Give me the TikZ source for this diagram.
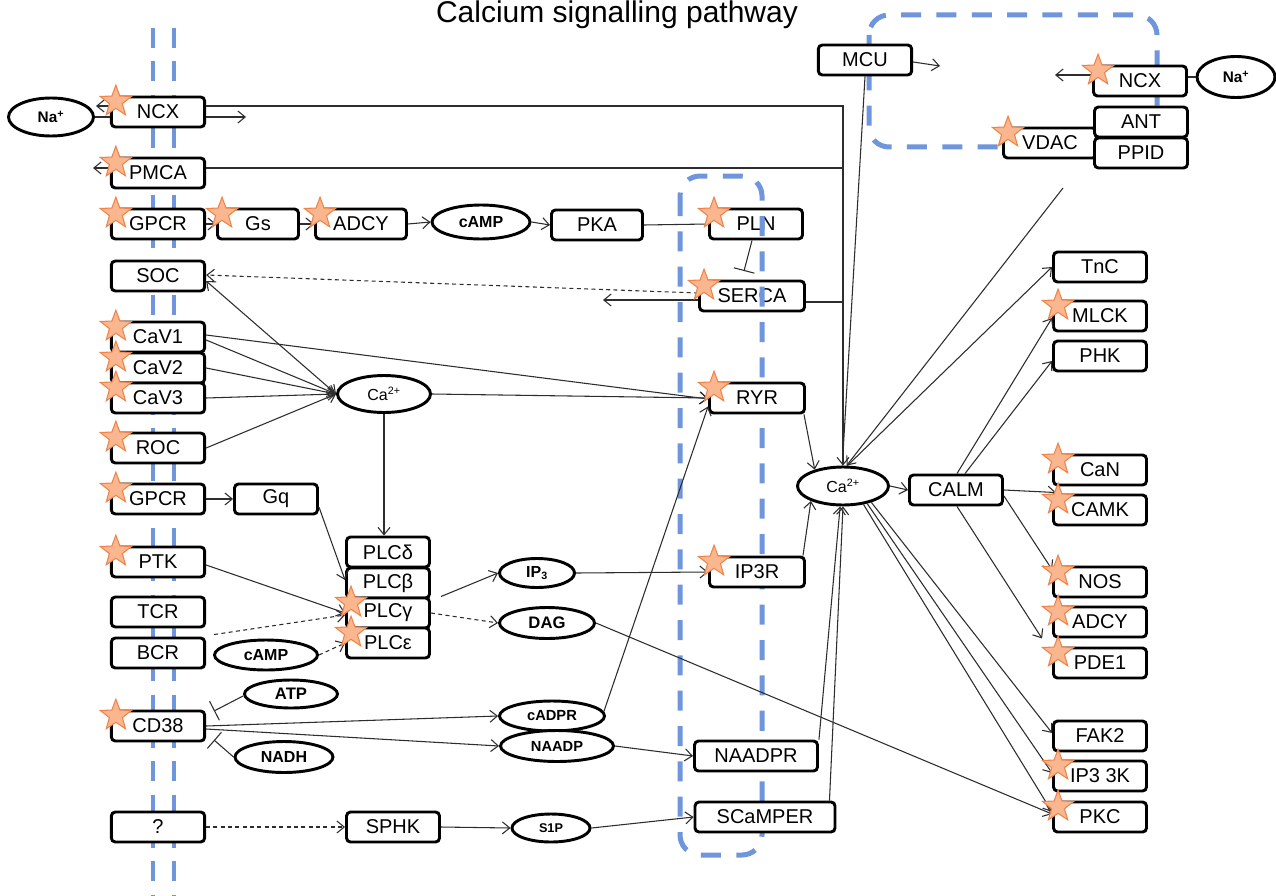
\documentclass[tikz,border=0pt]{standalone}
\usepackage{fontspec}
\setmainfont{Liberation Sans}
\usetikzlibrary{shapes.geometric,arrows.meta,calc}
\definecolor{memblue}{RGB}{111,150,220}
\definecolor{starfill}{RGB}{250,182,142}
\definecolor{starline}{RGB}{238,132,72}
\definecolor{wire}{RGB}{45,45,45}
\newcommand\mystar[1]{\node[starmark] (st-#1) at ($(#1.north west)+(6,6)$) {};}
\begin{document}
\begin{tikzpicture}[x=0.75pt,y=-0.75pt,
  box/.style={draw=black, line width=2.2pt, rounded corners=3pt, fill=white,
    minimum width=70pt, minimum height=22.5pt, inner sep=0pt,
    font=\fontsize{15}{16}\selectfont},
  bw/.style={minimum width=#1*0.75pt},
  oval/.style={ellipse, draw=black, line width=2.2pt, fill=white, inner sep=0pt,
    font=\bfseries\fontsize{11.5}{12}\selectfont},
  sz/.style 2 args={minimum width=#1*0.75pt, minimum height=#2*0.75pt},
  starmark/.style={star, star points=5, star point ratio=2.4, minimum size=24.5pt,
    inner sep=0pt, fill=starfill, draw=starline, line width=0.8pt},
  ln/.style={draw=wire, line width=0.8pt},
  arr/.style={ln, -{Straight Barb[length=5.5pt,width=9pt]}},
  darr/.style={ln, {Straight Barb[length=5.5pt,width=9pt]}-{Straight Barb[length=5.5pt,width=9pt]}},
  inh/.style={ln, -{Bar[width=16pt]}},
  dsh/.style={dash pattern=on 3pt off 2.5pt},
  memb/.style={draw=memblue, line width=3.2pt, dash pattern=on 15pt off 10pt},
  organelle/.style={draw=memblue, line width=3.75pt, dash pattern=on 15pt off 11.5pt, rounded corners=15pt}
]
\fill[white] (0,0) rectangle (1276,895);
\useasboundingbox (0,0) rectangle (1276,895);

% plasma membrane (double dashed line)
\coordinate (mA1) at (153,28); \coordinate (mA2) at (153,895);
\coordinate (mB1) at (174,28); \coordinate (mB2) at (174,895);
\draw[memb] (mA1) -- (mA2);
\draw[memb] (mB1) -- (mB2);

% mitochondrion
\draw[organelle] (869,15) rectangle (1157,147);

% title
\node[font=\fontsize{22.5}{24}\selectfont, anchor=base] (title) at (617,23) {Calcium signalling pathway};

% ER pumps lying under the ER outline
\node[box, bw=93] (PLN) at (756,224) {PLN};
\node[box, bw=105] (SERCA) at (752,296) {SERCA};

% endoplasmic reticulum
\draw[organelle] (680,176) rectangle (762,855);

% plasma membrane proteins
\node[oval, sz={85}{38}] (NaA) at (51,117) {Na\textsuperscript{+}};
\node[box] (NCXa) at (158,112) {NCX};
\node[box] (PMCA) at (158,173) {PMCA};
\node[box] (GPCRa) at (158,224) {GPCR};
\node[box] (SOC) at (158,276) {SOC};
\node[box] (CaVa) at (158,337) {CaV1};
\node[box] (CaVb) at (158,368) {CaV2};
\node[box] (CaVc) at (158,398) {CaV3};
\node[box] (ROC) at (158,448) {ROC};
\node[box] (GPCRb) at (158,499) {GPCR};
\node[box] (PTK) at (158,562) {PTK};
\node[box] (TCR) at (158,612) {TCR};
\node[box] (BCR) at (158,653) {BCR};
\node[box] (CD38) at (158,726) {CD38};
\node[box] (Unk) at (158,827) {?};

% cytosolic messengers and enzymes
\node[box, bw=81] (Gs) at (258,224) {Gs};
\node[box, bw=91] (ADCYa) at (361,224) {ADCY};
\node[oval, sz={98}{34}, font=\bfseries\fontsize{12}{13}\selectfont] (cAMPa) at (481,222) {cAMP};
\node[box, bw=91] (PKA) at (597,225) {PKA};
\node[oval, sz={93}{37}, font=\fontsize{12}{13}\selectfont] (CaL) at (384,394) {Ca\textsuperscript{2+}};
\node[box, bw=95] (RYR) at (757,398) {RYR};
\node[box, bw=83] (Gq) at (276,499) {Gq};
\node[box, bw=83] (PLCd) at (388,552) {PLCδ};
\node[box, bw=83] (PLCb) at (388,583) {PLCβ};
\node[box, bw=83] (PLCg) at (388,613) {PLCγ};
\node[box, bw=83] (PLCe) at (388,643) {PLCε};
\node[oval, sz={103}{30}, font=\bfseries\fontsize{12}{13}\selectfont] (cAMPb) at (266,655) {cAMP};
\node[oval, sz={75}{29}, font=\bfseries\fontsize{12}{13}\selectfont] (IP3) at (537,573) {IP\textsubscript{3}};
\node[oval, sz={95}{31}, font=\bfseries\fontsize{12.5}{13}\selectfont] (DAG) at (547,623) {DAG};
\node[box, bw=95] (IP3R) at (757,572) {IP3R};
\node[oval, sz={93}{28}, font=\bfseries\fontsize{12.5}{13}\selectfont] (ATP) at (291,694) {ATP};
\node[oval, sz={98}{31}, font=\bfseries\fontsize{12}{13}\selectfont] (NADH) at (284,757) {NADH};
\node[oval, sz={105}{30}, font=\bfseries\fontsize{11}{12}\selectfont] (cADPR) at (552,716) {cADPR};
\node[oval, sz={113}{31}, font=\bfseries\fontsize{11}{12}\selectfont] (NAADP) at (557,746) {NAADP};
\node[box, bw=123] (NAADPR) at (756,756) {NAADPR};
\node[box, bw=93] (SPHK) at (393,827) {SPHK};
\node[oval, sz={78}{28}, font=\bfseries\fontsize{9.5}{10}\selectfont] (S1P) at (551,828) {S1P};
\node[box, bw=140] (SCaMPER) at (765,817) {SCaMPER};
\node[oval, sz={91}{38}, font=\fontsize{12}{13}\selectfont] (CaR) at (843,486) {Ca\textsuperscript{2+}};
\node[box, bw=93] (CALM) at (956,490) {CALM};

% mitochondrial proteins
\node[box] (MCU) at (865,60) {MCU};
\node[box, bw=93] (NCXb) at (1140,81) {NCX};
\node[oval, sz={78}{41}] (NaB) at (1236,77) {Na\textsuperscript{+}};
\node[box, bw=93] (VDAC) at (1050,143) {VDAC};
\node[box, bw=93] (ANT) at (1141,122) {ANT};
\node[box, bw=93] (PPID) at (1141,153) {PPID};

% calcium effectors
\node[box, bw=93] (TnC) at (1100,267) {TnC};
\node[box, bw=93] (MLCK) at (1100,316) {MLCK};
\node[box, bw=93] (PHK) at (1100,356) {PHK};
\node[box, bw=93] (CaN) at (1100,470) {CaN};
\node[box, bw=93] (CAMK) at (1100,510) {CAMK};
\node[box, bw=93] (NOS) at (1100,582) {NOS};
\node[box, bw=93] (ADCYb) at (1100,622) {ADCY};
\node[box, bw=93] (PDE1) at (1100,663) {PDE1};
\node[box, bw=93] (FAK2) at (1100,736) {FAK2};
\node[box, bw=93] (IP3K) at (1100,776) {IP3 3K};
\node[box, bw=93] (PKC) at (1100,817) {PKC};

% free ends of connectors
\coordinate (naOut) at (96,106);
\coordinate (ncxOut) at (246,117);
\coordinate (pmOut) at (93,168);
\coordinate (sercaOut) at (603,300);
\coordinate (plnBar) at (744,271);
\coordinate (atpBar) at (214,711);
\coordinate (nadhBar) at (214,740);
\coordinate (vdacEnd) at (1063,188);
\coordinate (mcuOut) at (940,66);
\coordinate (ncxbOut) at (1055,75);

% fluxes across the plasma membrane
\draw[ln] (NaA.east) -- (NaA.east -| NCXa.west);
\draw[arr] (NCXa.west |- naOut) -- (naOut);
\draw[arr] (NCXa.east |- ncxOut) -- (ncxOut);
\draw[arr] ($(NCXa.east)+(0,-6)$) -| (CaR.north);
\draw[arr] (PMCA.west |- pmOut) -- (pmOut);
\draw[ln] ($(PMCA.east)+(0,-5)$) -- ($(PMCA.east -| CaR.north)+(0,-5)$);
\draw[ln] ($(SERCA.east)+(0,6)$) -- ($(SERCA.east -| CaR.north)+(0,6)$);

% cAMP branch
\draw[arr] (GPCRa.east) -- (Gs.west);
\draw[arr] (Gs.east) -- (ADCYa.west);
\draw[arr] (ADCYa.east) -- (cAMPa.west);
\draw[arr] (cAMPa.east) -- (PKA.west);
\draw[ln] (PKA.east) -- (PLN.west);
\draw[inh] ($(PLN.south)+(-4,0)$) -- (plnBar);
\draw[arr,dsh] ($(SERCA.west)+(0,-3)$) -- ($(SOC.east)+(0,-1)$);
\draw[arr] (SERCA.west |- sercaOut) -- (sercaOut);

% calcium entry channels
\draw[darr] ($(SOC.east)+(0,5)$) -- (CaL.west);
\draw[arr] ($(CaVa.east)+(0,-2)$) -- ($(RYR.west)+(0,1)$);
\draw[arr] ($(CaVa.east)+(0,3)$) -- (CaL.west);
\draw[arr] (CaVb.east) -- (CaL.west);
\draw[arr] (CaVc.east) -- (CaL.west);
\draw[arr] (ROC.east) -- (CaL.west);
\draw[arr] (CaL.east) -- (RYR.west);
\draw[arr] (CaL.south) -- (CaL.south |- PLCd.north);

% phospholipase C branch
\draw[arr] (GPCRb.east) -- (Gq.west);
\draw[arr] ($(Gq.east)+(0,8)$) -- ($(PLCb.west)+(0,-3)$);
\draw[arr] ($(PTK.east)+(0,3)$) -- (PLCg.west);
\draw[arr,dsh] ($(BCR.north east)+(8,-2)$) -- ($(PLCg.west)+(0,2)$);
\draw[arr,dsh] (cAMPb.east) -- (PLCe.west);
\draw[arr] ($(PLCg.north east)+(10,0)$) -- (IP3.west);
\draw[arr,dsh] (PLCg.east) -- (DAG.west);
\draw[arr] (IP3.east) -- (IP3R.west);
\draw[arr] (DAG.east) -- ($(PKC.west)+(0,-3)$);

% CD38 branch
\draw[inh] ($(ATP.west)+(0,2)$) -- (atpBar);
\draw[inh] (NADH.west) -- (nadhBar);
\draw[arr] (CD38.east) -- (cADPR.west);
\draw[arr] ($(CD38.east)+(0,3)$) -- (NAADP.west);
\draw[arr] (cADPR.5) -- ($(RYR.south west)+(0,-8)$);
\draw[arr] (NAADP.east) -- (NAADPR.west);

% sphingosine branch
\draw[arr,dsh] (Unk.east) -- (SPHK.west);
\draw[arr] (SPHK.east) -- (S1P.west);
\draw[arr] (S1P.east) -- (SCaMPER.west);

% release into the cytosol
\draw[arr] ($(RYR.south east)+(-2,0)$) -- (CaR.150);
\draw[arr] ($(IP3R.north east)+(-3,0)$) -- (CaR.205);
\draw[arr] (NAADPR.north east) -- (CaR.262);
\draw[arr] ($(SCaMPER.north east)+(-7,0)$) -- (CaR.270);

% mitochondrial exchange
\draw[ln] (MCU.south) -- (CaR.92);
\draw[arr] (vdacEnd) -- (CaR.80);
\draw[arr] ($(MCU.east)+(0,2)$) -- (mcuOut);
\draw[arr] (NCXb.west |- ncxbOut) -- (ncxbOut);
\draw[ln] (NCXb.east |- NaB.west) -- (NaB.west);

% downstream targets
\draw[arr] (CaR.east) -- (CALM.west);
\draw[arr] (CaR.78) -- (TnC.west);
\draw[arr] ($(CALM.north)+(1,0)$) -- ($(MLCK.west)+(0,2)$);
\draw[arr] ($(CALM.north)+(9,0)$) -- ($(PHK.west)+(0,5)$);
\draw[arr] (CALM.east) -- ($(CAMK.north west)+(4,-1)$);
\draw[arr] ($(CALM.east)+(0,6)$) -- ($(NOS.north west)+(0,4)$);
\draw[arr] ($(CALM.south)+(1,0)$) -- ($(ADCYb.south west)+(-10,0)$);
\draw[arr] (CaR.-30) -- ($(FAK2.west)+(0,-3)$);
\draw[arr] (CaR.-36) -- ($(IP3K.west)+(0,-3)$);
\draw[arr] (CaR.-42) -- ($(PKC.west)+(0,-5)$);

% markers
\mystar{NCXa} \mystar{PMCA} \mystar{GPCRa} \mystar{Gs} \mystar{ADCYa}
\mystar{PLN} \mystar{SERCA} \mystar{CaVa} \mystar{CaVb} \mystar{CaVc}
\mystar{ROC} \mystar{GPCRb} \mystar{PTK} \mystar{PLCg} \mystar{PLCe}
\mystar{CD38} \mystar{RYR} \mystar{IP3R} \mystar{NCXb} \mystar{VDAC}
\mystar{MLCK} \mystar{CaN} \mystar{CAMK} \mystar{NOS} \mystar{ADCYb}
\mystar{PDE1} \mystar{IP3K} \mystar{PKC}
\end{tikzpicture}
\end{document}
